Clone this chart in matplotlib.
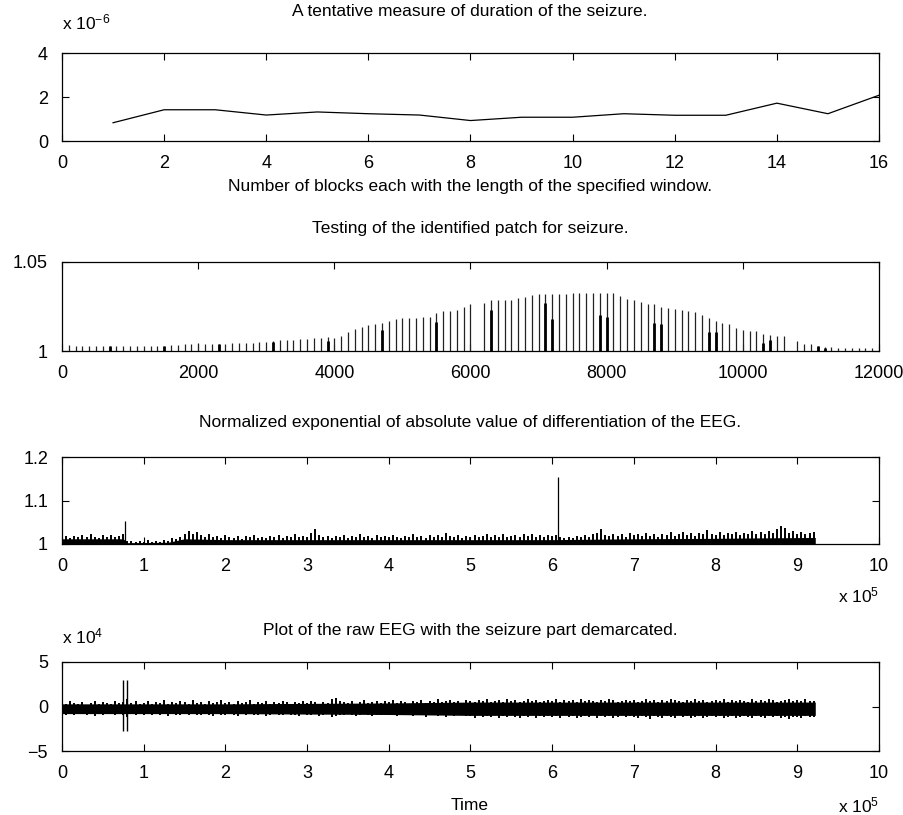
import numpy as np
import matplotlib
matplotlib.use("Agg")
import matplotlib.pyplot as plt

plt.rcParams['font.family'] = ['Liberation Sans', 'DejaVu Sans']
plt.rcParams['mathtext.fontset'] = 'custom'
plt.rcParams['mathtext.rm'] = 'Liberation Sans'
plt.rcParams['mathtext.it'] = 'Liberation Sans:italic'

# ---- panel 1: duration measure (x 1e-6) ----
blocks = list(range(1, 17))
duration = [0.83, 1.42, 1.42, 1.18, 1.32, 1.24, 1.18, 0.93,
            1.08, 1.08, 1.24, 1.17, 1.17, 1.72, 1.24, 2.08]

# ---- panel 2: patch test stems ----
patch_x = [v for v in range(100, 12000, 100) if v not in (6100, 10700)]
patch_y = [1.0032, 1.0026, 1.0026, 1.0026, 1.0026, 1.0028, 1.0026, 1.0026, 1.0026, 1.0026,
           1.0026, 1.0026, 1.0028, 1.0030, 1.0030, 1.0032, 1.0036, 1.0038, 1.0040, 1.0045,
           1.0040, 1.0040, 1.0040, 1.0042, 1.0045, 1.0047, 1.0047, 1.0047, 1.0049, 1.0051,
           1.0055, 1.0060, 1.0060, 1.0062, 1.0068, 1.0068, 1.0074, 1.0075, 1.0077, 1.0075,
           1.0083, 1.0108, 1.0126, 1.0136, 1.0145, 1.0151, 1.0158, 1.0168, 1.0177, 1.0183,
           1.0187, 1.0187, 1.0192, 1.0192, 1.0211, 1.0225, 1.0225, 1.0230, 1.0249, 1.0262,
           1.0268, 1.0287, 1.0287, 1.0287, 1.0287, 1.0300, 1.0306, 1.0315, 1.0319,
           1.0319, 1.0321, 1.0321, 1.0321, 1.0328, 1.0328, 1.0328, 1.0328, 1.0328, 1.0328,
           1.0328, 1.0310, 1.0292, 1.0287, 1.0277, 1.0262, 1.0262, 1.0249, 1.0240, 1.0236,
           1.0230, 1.0225, 1.0217, 1.0202, 1.0183, 1.0170, 1.0158, 1.0150, 1.0132, 1.0117,
           1.0113, 1.0111, 1.0094, 1.0089, 1.0083, 1.0083,
           1.0055, 1.0042, 1.0042, 1.0028, 1.0023, 1.0023, 1.0017, 1.0017, 1.0017, 1.0017,
           1.0017, 1.0017]
seiz_x = [700, 1500, 2300, 3100, 3900, 4700, 5500, 6300, 7100, 7200,
          7900, 8000, 8700, 8800, 9500, 9600, 10300, 10400, 11100, 11200]
seiz_y = [1.0026, 1.0026, 1.0038, 1.0051, 1.0057, 1.0117, 1.0164, 1.0230, 1.0268, 1.0180,
          1.0202, 1.0192, 1.0158, 1.0150, 1.0108, 1.0108, 1.0045, 1.0064, 1.0028, 1.0017]

# ---- panel 3: normalized exp of |diff|, thousandths above 1 ----
# peaks, every 0.05e5
diff_env = [28, 18, 14, 19, 16, 21, 15, 22, 17, 14, 20, 16, 21, 15, 19, 22, 8, 6, 5, 7,
            5, 9, 4, 6, 5, 10, 8, 13, 11, 16, 22, 30, 24, 28, 20, 17, 22, 15, 18, 13,
            20, 16, 14, 19, 12, 18, 15, 20, 14, 17, 13, 19, 16, 21, 14, 18, 15, 22, 17, 19,
            16, 26, 34, 20, 15, 19, 14, 18, 16, 21, 13, 19, 17, 22, 15, 18, 14, 20, 16, 19,
            15, 21, 17, 14, 19, 16, 22, 15, 18, 14, 20, 17, 21, 16, 26, 18, 15, 20, 14, 18,
            16, 21, 15, 19, 22, 16, 20, 17, 23, 15, 19, 21, 16, 22, 18, 24, 17, 20, 15, 21,
            18, 20, 16, 14, 17, 13, 19, 15, 20, 16, 22, 25, 34, 21, 18, 24, 19, 22, 17, 25,
            20, 23, 18, 26, 19, 22, 17, 24, 20, 27, 19, 23, 28, 21, 25, 19, 26, 22, 32, 24,
            21, 27, 20, 25, 22, 28, 21, 26, 23, 30, 22, 27, 24, 29, 25, 35, 41, 37, 26, 30,
            24, 28, 22, 26, 28]
# dense (solid) part of the trace
diff_band_x = [0, 0.75, 0.8, 1.3, 1.5, 2, 3, 4, 5, 6, 7, 8, 8.5, 9.22]
diff_band_y = [12, 12, 3, 4, 12, 10, 10, 10, 10, 10, 12, 13, 14, 15]
spike_x = [0.77, 6.07]
spike_y = [1.052, 1.154]

# ---- panel 4: raw EEG (x 1e3) ----
eeg_up = [5, 3, 6, 4, 3, 5, 2, 4, 6, 3, 5, 4, 3, 6, 4, 5, 8, 4, 6, 3,
          4, 6, 3, 5, 4, 7, 3, 5, 4, 6, 5, 3, 7, 4, 5, 3, 6, 4, 5, 7,
          4, 5, 3, 6, 4, 5, 7, 3, 5, 4, 6, 3, 5, 4, 6, 5, 3, 5, 4, 6,
          4, 6, 5, 3, 5, 4, 8, 9, 6, 5, 4, 6, 3, 5, 7, 4, 5, 6, 4, 6,
          5, 7, 4, 6, 5, 3, 6, 5, 7, 4, 6, 5, 8, 5, 6, 7, 5, 6, 4, 7,
          6, 5, 7, 6, 8, 5, 6, 7, 5, 8, 6, 7, 5, 6, 8, 6, 7, 5, 6, 7,
          6, 8, 5, 7, 6, 7, 5, 8, 6, 7, 6, 5, 7, 6, 8, 7, 5, 6, 7, 6,
          7, 5, 6, 8, 6, 7, 5, 7, 6, 8, 7, 6, 5, 7, 6, 8, 6, 7, 5, 6,
          7, 6, 8, 5, 7, 6, 7, 6, 5, 8, 6, 7, 6, 8, 7, 5, 6, 7, 8, 6,
          7, 6, 8, 6, 6]
eeg_lo = [-8, -9, -7, -10, -8, -7, -9, -8, -11, -7, -9, -8, -7, -10, -8, -9, -12, -8, -9, -7,
          -9, -8, -10, -7, -9, -8, -11, -8, -9, -10, -7, -9, -8, -10, -9, -7, -9, -11, -8, -9,
          -10, -8, -9, -11, -8, -9, -7, -10, -9, -8, -11, -9, -8, -10, -9, -8, -10, -9, -11, -8,
          -9, -10, -8, -11, -9, -8, -12, -11, -9, -10, -8, -9, -11, -10, -8, -9, -11, -9, -10, -8,
          -10, -9, -11, -8, -10, -9, -11, -10, -9, -12, -10, -9, -11, -10, -12, -9, -11, -10, -9, -11,
          -11, -13, -10, -12, -11, -12, -10, -13, -11, -12, -10, -12, -13, -11, -12, -10, -13, -11, -12, -11,
          -12, -11, -13, -10, -12, -11, -13, -12, -11, -12, -10, -13, -11, -12, -11, -13, -12, -10, -12, -11,
          -12, -13, -11, -12, -14, -11, -12, -13, -11, -12, -13, -10, -12, -11, -13, -12, -11, -13, -12, -11,
          -12, -11, -13, -12, -11, -13, -12, -11, -12, -13, -11, -12, -13, -11, -12, -11, -13, -12, -14, -12,
          -12, -13, -11, -12, -12]
eeg_band_x = [0, 2, 4, 5, 6, 8, 9.22]
eeg_band_hi = [3, 3, 4, 5, 5, 5, 5]
eeg_band_lo = [-8, -8, -9, -10, -10, -10, -10]
mark_x = [0.75, 0.80]
mark_lo, mark_hi = -2.8, 3.0

fig = plt.figure(figsize=(9.04, 8.15), dpi=100)
W, H = 904.0, 815.0

def add_ax(top, bottom):
    ax = fig.add_axes([62 / W, 1 - bottom / H, (879 - 62) / W, (bottom - top) / H])
    ax.tick_params(direction='in', top=True, right=True, length=5, width=0.8,
                   labelsize=13, pad=10)
    for s in ax.spines.values():
        s.set_linewidth(0.9)
    return ax

def ftext(x, y, s, size=12.5, **kw):
    fig.text(x / W, 1 - y / H, s, va='center', fontsize=size, **kw)

# panel 1
ax1 = add_ax(53, 141)
ax1.plot(blocks, duration, color='black', lw=0.9)
ax1.set_xlim(0, 16)
ax1.set_ylim(0, 4)
ax1.set_xticks(range(0, 17, 2))
ax1.set_yticks([0, 2, 4])
ftext(470, 12, 'A tentative measure of duration of the seizure.', ha='center')
ftext(470, 187, 'Number of blocks each with the length of the specified window.', ha='center')
ftext(62, 22, r'x 10$^{-6}$', ha='left')

# panel 2
ax2 = add_ax(262, 351)
ax2.vlines(patch_x, 1, patch_y, color='#222222', lw=0.9)
ax2.vlines(seiz_x, 1, seiz_y, color='black', lw=2.0)
ax2.set_xlim(0, 12000)
ax2.set_ylim(1, 1.05)
ax2.set_xticks(range(0, 12001, 2000))
ax2.set_yticks([1, 1.05])
ax2.set_yticklabels(['1', '1.05'])
ftext(470, 228, 'Testing of the identified patch for seizure.', ha='center')

# panel 3
ax3 = add_ax(457, 544)
x3 = np.arange(len(diff_env)) * 0.05
ax3.fill_between(diff_band_x, 1, 1 + np.array(diff_band_y) / 1000.0, color='black', lw=0)
ax3.vlines(x3, 1, 1 + np.array(diff_env) / 1000.0, color='black', lw=1.4)
ax3.vlines(spike_x, 1, spike_y, color='black', lw=0.9)
ax3.set_xlim(0, 10)
ax3.set_ylim(1, 1.2)
ax3.set_xticks(range(0, 11))
ax3.set_yticks([1, 1.1, 1.2])
ax3.set_yticklabels(['1', '1.1', '1.2'])
ftext(470, 423, 'Normalized exponential of absolute value of differentiation of the EEG.', ha='center')
ftext(879, 595, r'x 10$^{5}$', ha='right')

# panel 4
ax4 = add_ax(662, 751)
x4 = np.arange(len(eeg_up)) * 0.05
ax4.fill_between(eeg_band_x, np.array(eeg_band_lo) / 10.0, np.array(eeg_band_hi) / 10.0,
                 color='black', lw=0)
ax4.vlines(x4, np.array(eeg_lo) / 10.0, np.array(eeg_up) / 10.0, color='black', lw=1.4)
ax4.vlines(mark_x, mark_lo, mark_hi, color='black', lw=1.0)
ax4.set_xlim(0, 10)
ax4.set_ylim(-5, 5)
ax4.set_xticks(range(0, 11))
ax4.set_yticks([-5, 0, 5])
ftext(470, 630, 'Plot of the raw EEG with the seizure part demarcated.', ha='center')
ftext(62, 636, r'x 10$^{4}$', ha='left')
ftext(470, 805, 'Time', ha='center')
ftext(879, 805, r'x 10$^{5}$', ha='right')

fig.savefig('out.png', dpi=100)
